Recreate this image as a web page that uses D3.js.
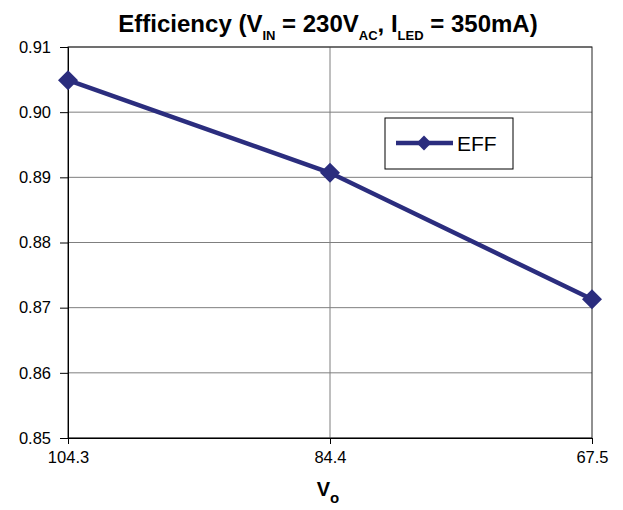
<!DOCTYPE html>
<html><head><meta charset="utf-8">
<script src="https://cdn.jsdelivr.net/npm/d3@7"></script>
<style>body{margin:0;background:#fff}svg{font-family:"Liberation Sans",Arial,sans-serif}</style>
</head><body>
<script>
const categories = ["104.3", "84.4", "67.5"];
const effValues = [0.9049, 0.8907, 0.8713];
const yTicks = [0.85, 0.86, 0.87, 0.88, 0.89, 0.90, 0.91];
const seriesName = "EFF";

const W = 623, H = 510;
const m = {left: 68, right: 31, top: 47, bottom: 72};
const svg = d3.select("body").append("svg").attr("width", W).attr("height", H);

const x = d3.scalePoint().domain(categories).range([m.left, W - m.right]);
const y = d3.scaleLinear().domain([0.85, 0.91]).range([H - m.bottom, m.top]);
const color = "#2b2d7e";

// gridlines
svg.append("g").selectAll("line").data(yTicks).join("line")
  .attr("x1", m.left).attr("x2", W - m.right)
  .attr("y1", d => y(d)).attr("y2", d => y(d))
  .attr("stroke", "#7f7f7f").attr("stroke-width", 1);
svg.append("g").selectAll("line").data(categories.slice(1, -1)).join("line")
  .attr("x1", d => x(d)).attr("x2", d => x(d))
  .attr("y1", m.top).attr("y2", H - m.bottom)
  .attr("stroke", "#7f7f7f").attr("stroke-width", 1);

// plot border
svg.append("rect").attr("x", m.left).attr("y", m.top)
  .attr("width", W - m.left - m.right).attr("height", H - m.top - m.bottom)
  .attr("fill", "none").attr("stroke", "#222").attr("stroke-width", 1);

// y axis
const yAxis = svg.append("g").attr("transform", `translate(${m.left},0)`)
  .call(d3.axisLeft(y).tickValues(yTicks).tickFormat(d3.format(".2f")).tickSize(8).tickPadding(9));
yAxis.select(".domain").attr("stroke", "#000");
yAxis.selectAll(".tick line").attr("stroke", "#000");
yAxis.selectAll("text").attr("font-size", 16.5).attr("fill", "#000").attr("font-family", "Liberation Sans, Arial, sans-serif");

// x axis
const xAxis = svg.append("g").attr("transform", `translate(0,${H - m.bottom})`)
  .call(d3.axisBottom(x).tickSize(6).tickPadding(7).tickSizeOuter(0));
xAxis.select(".domain").attr("stroke", "#000");
xAxis.selectAll(".tick line").attr("stroke", "#000");
xAxis.selectAll("text").attr("font-size", 16.5).attr("fill", "#000").attr("font-family", "Liberation Sans, Arial, sans-serif");

// line
const data = categories.map((c, i) => ({c, v: effValues[i]}));
svg.append("path").datum(data)
  .attr("d", d3.line().x(d => x(d.c)).y(d => y(d.v)))
  .attr("fill", "none").attr("stroke", color).attr("stroke-width", 4.5);
const diamond = d3.symbol().type(d3.symbolSquare).size(200);
svg.append("g").selectAll("path").data(data).join("path")
  .attr("d", diamond)
  .attr("transform", d => `translate(${x(d.c)},${y(d.v)}) rotate(45)`)
  .attr("fill", color);

// legend
const lg = svg.append("g");
lg.append("rect").attr("x", 385).attr("y", 118).attr("width", 128).attr("height", 51)
  .attr("fill", "#fff").attr("stroke", "#000").attr("stroke-width", 1);
lg.append("line").attr("x1", 396).attr("x2", 453).attr("y1", 143).attr("y2", 143)
  .attr("stroke", color).attr("stroke-width", 4.5);
lg.append("path").attr("d", d3.symbol().type(d3.symbolSquare).size(110))
  .attr("transform", "translate(424,143) rotate(45)").attr("fill", color);
lg.append("text").attr("x", 457).attr("y", 151).attr("font-size", 21).text(seriesName);

// title
const t = svg.append("text").attr("x", 328).attr("y", 32).attr("text-anchor", "middle")
  .attr("font-size", 24).attr("font-weight", "bold");
t.append("tspan").text("Efficiency (V");
t.append("tspan").attr("font-size", 13).attr("dy", 8).text("IN");
t.append("tspan").attr("dy", -8).text(" = 230V");
t.append("tspan").attr("font-size", 13).attr("dy", 8).text("AC");
t.append("tspan").attr("dy", -8).text(", I");
t.append("tspan").attr("font-size", 13).attr("dy", 8).text("LED");
t.append("tspan").attr("dy", -8).text(" = 350mA)");

// x label
const xl = svg.append("text").attr("x", 328).attr("y", 496).attr("text-anchor", "middle")
  .attr("font-size", 20).attr("font-weight", "bold");
xl.append("tspan").text("V");
xl.append("tspan").attr("font-size", 15).attr("dy", 7).text("o");
</script>
</body></html>
